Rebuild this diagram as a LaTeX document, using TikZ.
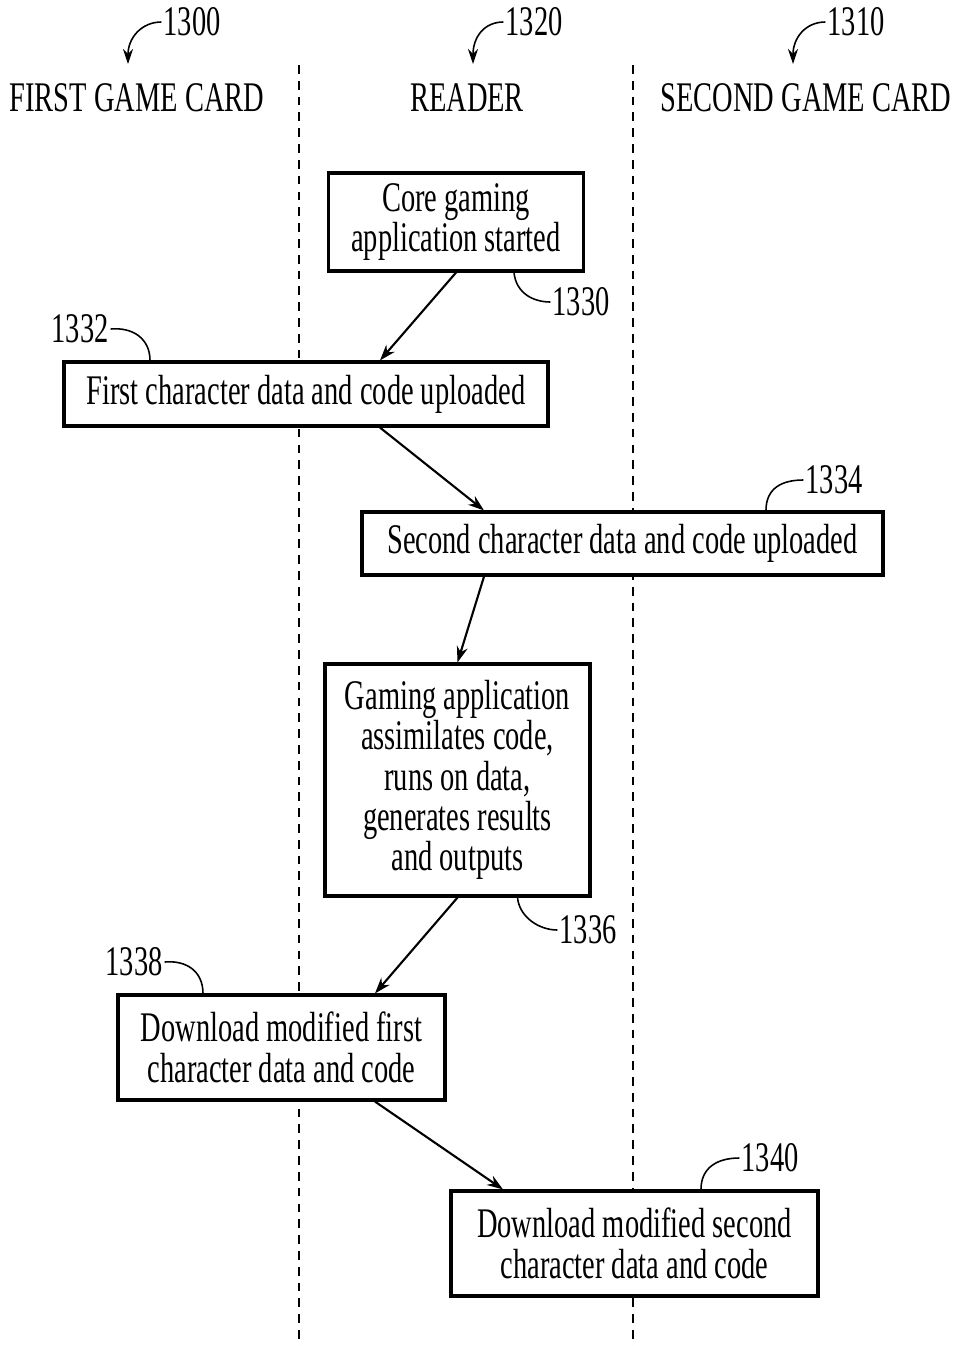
\documentclass[tikz,border=0pt]{standalone}
\usepackage{fontspec}
\setmainfont[FakeStretch=0.675]{Liberation Serif}
\usetikzlibrary{arrows.meta,positioning,calc}

\begin{document}
\begin{tikzpicture}[x=0.02cm,y=-0.02cm,
    stepbox/.style={draw, fill=white, rectangle, line width=1.8pt, align=center, inner sep=0pt, font=\fontsize{24}{23}\selectfont},
    lanehead/.style={inner sep=1pt, font=\fontsize{24}{23}\selectfont},
    refnum/.style={inner sep=1pt, font=\fontsize{24}{23}\selectfont},
    lane/.style={line width=0.8pt, dash pattern=on 5pt off 4pt},
    flow/.style={-{Stealth[length=3.2mm,width=2.2mm]}, line width=1.2pt},
    lead/.style={line width=0.9pt},
    refarrow/.style={-{Stealth[length=3mm,width=2mm]}, line width=0.9pt}]
    \useasboundingbox (0,0) rectangle (953,1346);

    % Lanes
    \draw[lane] (299,65) -- (299,1346);
    \draw[lane] (633,65) -- (633,1346);
    \node[lanehead] (first) at (137,98) {FIRST GAME CARD};
    \node[lanehead] (reader) at (467,98) {READER};
    \node[lanehead] (second) at (806,98) {SECOND GAME CARD};

    % Lane numbers
    \node[refnum] (n1300) at (192,22) {1300};
    \node[refnum] (n1320) at (534,22) {1320};
    \node[refnum] (n1310) at (856,22) {1310};
    \coordinate (t1300) at (128,64);
    \coordinate (t1320) at (473,64);
    \coordinate (t1310) at (793,64);
    \draw[refarrow] (n1300.west) .. controls +(-20,0) and +(0,-26) .. (t1300);
    \draw[refarrow] (n1320.west) .. controls +(-20,0) and +(0,-26) .. (t1320);
    \draw[refarrow] (n1310.west) .. controls +(-20,0) and +(0,-26) .. (t1310);

    % Steps
    \node[stepbox, minimum width=5.1cm, minimum height=1.96cm] (b1330) at (456,222) {Core gaming\\application started};
    \node[stepbox, minimum width=9.68cm, minimum height=1.28cm] (b1332) at (306,394) {First character data and code uploaded};
    \node[stepbox, minimum width=10.42cm, minimum height=1.26cm] (b1334) at (622.5,543.5) {Second character data and code uploaded};
    \node[stepbox, minimum width=5.3cm, minimum height=4.64cm] (b1336) at (457.5,780) {Gaming application\\assimilates code,\\runs on data,\\generates results\\and outputs};
    \node[stepbox, minimum width=6.54cm, minimum height=2.1cm] (b1338) at (281.5,1047.5) {Download modified first\\character data and code};
    \node[stepbox, minimum width=7.34cm, minimum height=2.1cm] (b1340) at (634.5,1243.5) {Download modified second\\character data and code};

    % Arrows
    \draw[flow] (b1330.south) -- ($(b1332.north)+(74,0)$);
    \draw[flow] ($(b1332.south)+(74,0)$) -- ($(b1334.north)+(-138.5,0)$);
    \draw[flow] ($(b1334.south)+(-138.5,0)$) -- (b1336.north);
    \draw[flow] (b1336.south) -- ($(b1338.north)+(93.5,0)$);
    \draw[flow] ($(b1338.south)+(93.5,0)$) -- ($(b1340.north)+(-131.5,0)$);

    % Step numbers
    \node[refnum] (n1330) at (581,302) {1330};
    \node[refnum] (n1332) at (80,329) {1332};
    \node[refnum] (n1334) at (834,480) {1334};
    \node[refnum] (n1336) at (588,930) {1336};
    \node[refnum] (n1338) at (134,962) {1338};
    \node[refnum] (n1340) at (770,1158) {1340};
    \draw[lead] ($(b1330.south)+(58,0)$) .. controls +(2,20) and +(-18,0) .. (n1330.west);
    \draw[lead] (n1332.east) .. controls +(22,-2) and +(0,-22) .. ($(b1332.north)+(-156,0)$);
    \draw[lead] (n1334.west) .. controls +(-22,0) and +(0,-22) .. ($(b1334.north)+(143.5,0)$);
    \draw[lead] ($(b1336.south)+(60,0)$) .. controls +(2,20) and +(-18,0) .. (n1336.west);
    \draw[lead] (n1338.east) .. controls +(22,-2) and +(0,-22) .. ($(b1338.north)+(-78.5,0)$);
    \draw[lead] (n1340.west) .. controls +(-22,0) and +(0,-22) .. ($(b1340.north)+(66.5,0)$);
\end{tikzpicture}
\end{document}
